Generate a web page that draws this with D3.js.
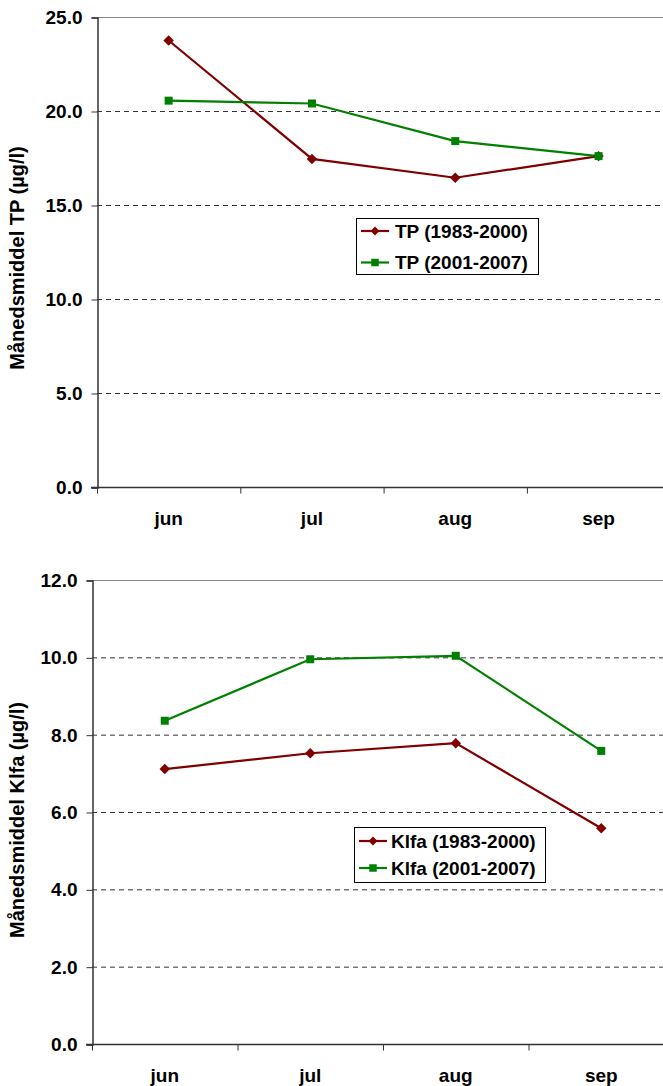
<!DOCTYPE html>
<html>
<head>
<meta charset="utf-8">
<script src="https://cdn.jsdelivr.net/npm/d3@7"></script>
<style>
html,body{margin:0;padding:0;background:#fff;}
svg{display:block;font-family:"Liberation Sans",Arial,sans-serif;}
</style>
</head>
<body>
<svg id="chart" width="663" height="1086"></svg>
<script>
// ---- data ----
const months = ["jun", "jul", "aug", "sep"];
const tpOld = [23.75, 17.45, 16.45, 17.6];
const tpNew = [20.55, 20.4, 18.4, 17.6];
const klfaOld = [7.11, 7.52, 7.78, 5.58];
const klfaNew = [8.36, 9.95, 10.04, 7.58];
const tpTicks = [0, 5, 10, 15, 20, 25];
const klfaTicks = [0, 2, 4, 6, 8, 10, 12];
const tpSeriesNames = ["TP (1983-2000)", "TP (2001-2007)"];
const klfaSeriesNames = ["Klfa (1983-2000)", "Klfa (2001-2007)"];
const tpTitle = "Månedsmiddel TP (µg/l)";
const klfaTitle = "Månedsmiddel Klfa (µg/l)";

const RED = "#800000", GREEN = "#008000";
const svg = d3.select("#chart");

function drawChart(c) {
  const g = svg.append("g");
  const y = d3.scaleLinear().domain([0, c.ticks[c.ticks.length - 1]]).range([c.y0, c.y1]);
  const x = d3.scaleBand().domain(months).range([c.x0, c.x0 + 4 * c.band]).paddingInner(0).paddingOuter(0);

  // gridlines
  g.selectAll("line.grid").data(c.ticks.filter(t => t > 0)).join("line")
    .attr("x1", c.x0).attr("x2", 663)
    .attr("y1", d => y(d) + 0.5).attr("y2", d => y(d) + 0.5)
    .attr("stroke", (d, i, a) => i === a.length - 1 ? "#888" : "#333")
    .attr("stroke-width", 1)
    .attr("stroke-dasharray", (d, i, a) => i === a.length - 1 ? null : "5,4");

  // y axis
  const yAxis = d3.axisLeft(y).tickValues(c.ticks).tickFormat(d3.format(".1f")).tickSize(6).tickPadding(9);
  const ya = g.append("g").attr("transform", `translate(${c.x0 + 0.5},0.5)`).call(yAxis);
  ya.select(".domain").attr("stroke", "#333").attr("stroke-width", 1.5);
  ya.selectAll(".tick line").attr("stroke", "#333");
  ya.selectAll(".tick text").attr("font-size", 19).attr("font-weight", "bold")
    .attr("font-family", "Liberation Sans, Arial, sans-serif").attr("fill", "#000");

  // x axis
  const xAxis = d3.axisBottom(x).tickSize(0).tickPadding(c.labelPad);
  const xa = g.append("g").attr("transform", `translate(0,${c.y0 + 0.5})`).call(xAxis);
  xa.select(".domain").remove();
  xa.append("line").attr("x1", c.x0 - 6).attr("x2", 663).attr("y1", 0).attr("y2", 0)
    .attr("stroke", "#333").attr("stroke-width", 1.5);
  xa.selectAll(".tick text").attr("font-size", 19).attr("font-weight", "bold")
    .attr("font-family", "Liberation Sans, Arial, sans-serif").attr("fill", "#000");
  xa.selectAll("line.xt").data(months).join("line")
    .attr("x1", d => x(d) + 0.5).attr("x2", d => x(d) + 0.5)
    .attr("y1", 0).attr("y2", 6).attr("stroke", "#333");

  // y title
  g.append("text")
    .attr("transform", `translate(${c.titleX},${(c.y0 + c.y1) / 2 + c.titleShift}) rotate(-90)`)
    .attr("text-anchor", "middle").attr("font-size", 20).attr("font-weight", "bold")
    .text(c.title);

  // lines
  const line = d3.line().x((d, i) => x(months[i]) + x.bandwidth() / 2).y(d => y(d));
  const series = [{ v: c.old, col: RED, shape: "diamond" }, { v: c.nw, col: GREEN, shape: "square" }];
  series.forEach(s => {
    g.append("path").datum(s.v).attr("d", line).attr("fill", "none")
      .attr("stroke", s.col).attr("stroke-width", 2.2);
  });
  series.forEach(s => {
    const sym = s.shape === "diamond" ? d3.symbol(d3.symbolDiamond2, 70) : d3.symbol(d3.symbolSquare, 64);
    g.selectAll(null).data(s.v).join("path")
      .attr("transform", (d, i) => `translate(${x(months[i]) + x.bandwidth() / 2},${y(d)})`)
      .attr("d", sym).attr("fill", s.col);
  });

  // legend
  const L = c.legend;
  const lg = g.append("g");
  lg.append("rect").attr("x", L.x + 0.5).attr("y", L.y + 0.5).attr("width", L.w).attr("height", L.h)
    .attr("fill", "#fff").attr("stroke", "#000").attr("stroke-width", 1);
  series.forEach((s, i) => {
    const cy = L.y + L.r0 + i * L.dy;
    lg.append("line").attr("x1", L.x + 5).attr("x2", L.x + 5 + L.lw).attr("y1", cy).attr("y2", cy)
      .attr("stroke", s.col).attr("stroke-width", 2.2);
    const sym = s.shape === "diamond" ? d3.symbol(d3.symbolDiamond2, 50) : d3.symbol(d3.symbolSquare, 56);
    lg.append("path").attr("transform", `translate(${L.x + 5 + L.lw / 2},${cy})`).attr("d", sym).attr("fill", s.col);
    lg.append("text").attr("x", L.tx).attr("y", cy).attr("dy", "0.35em")
      .attr("font-size", 19).attr("font-weight", "bold").text(c.names[i]);
  });
}

drawChart({
  ticks: tpTicks, y0: 487, y1: 17, x0: 97, band: 143.3, labelPad: 24,
  title: tpTitle, titleX: 24, titleShift: 6, old: tpOld, nw: tpNew, names: tpSeriesNames,
  legend: { x: 356, y: 218, w: 182, h: 56, r0: 13, dy: 31.5, lw: 28, tx: 395 }
});
drawChart({
  ticks: klfaTicks, y0: 1044, y1: 580, x0: 92, band: 145.5, labelPad: 24,
  title: klfaTitle, titleX: 24, titleShift: 8, old: klfaOld, nw: klfaNew, names: klfaSeriesNames,
  legend: { x: 354, y: 827, w: 191, h: 55, r0: 14, dy: 27, lw: 28, tx: 391 }
});
</script>
</body>
</html>
